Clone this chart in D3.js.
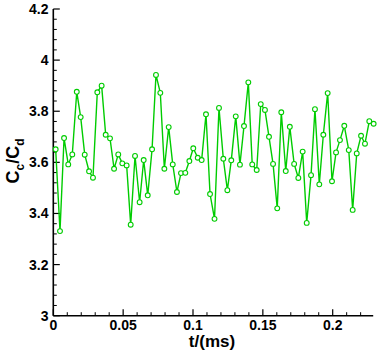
<!DOCTYPE html>
<html><head><meta charset="utf-8">
<script src="https://cdn.jsdelivr.net/npm/d3@7"></script>
<style>html,body{margin:0;padding:0;background:#fff;}svg{display:block;}</style>
</head><body>
<script>
const times = [0.0017,0.0048,0.0077,0.0107,0.0136,0.0168,0.0196,0.0225,0.0256,0.0284,
0.0315,0.0346,0.0375,0.0406,0.0435,0.0465,0.0494,0.0525,0.0554,0.0585,
0.0618,0.0647,0.0676,0.0707,0.0735,0.0766,0.0795,0.0826,0.0855,0.0885,
0.0914,0.0945,0.0974,0.1002,0.1034,0.1062,0.1093,0.1122,0.1154,0.1186,
0.1217,0.1246,0.1274,0.1306,0.1336,0.1365,0.1396,0.1424,0.1456,0.1485,
0.1515,0.1544,0.1573,0.1603,0.1632,0.1664,0.1693,0.1724,0.1754,0.1785,
0.1814,0.1845,0.1873,0.1904,0.1933,0.1964,0.1995,0.2024,0.2052,0.2083,
0.2115,0.2143,0.2172,0.2203,0.2231,0.2262,0.2293];
const ratio = [3.651,3.331,3.695,3.592,3.631,3.876,3.777,3.630,3.565,3.540,
3.874,3.900,3.708,3.694,3.575,3.631,3.596,3.588,3.356,3.625,
3.444,3.609,3.471,3.651,3.942,3.872,3.575,3.738,3.592,3.484,
3.558,3.559,3.605,3.655,3.618,3.609,3.788,3.476,3.379,3.813,
3.614,3.491,3.608,3.780,3.591,3.742,3.913,3.592,3.570,3.828,
3.805,3.700,3.594,3.420,3.796,3.566,3.739,3.594,3.539,3.642,
3.363,3.550,3.808,3.514,3.708,3.871,3.526,3.639,3.687,3.743,
3.648,3.414,3.635,3.704,3.673,3.761,3.751];
const xTicks = [0,0.05,0.1,0.15,0.2];
const xTickLabels = ["0","0.05","0.1","0.15","0.2"];
const yTicks = [3,3.2,3.4,3.6,3.8,4,4.2];
const yTickLabels = ["3","3.2","3.4","3.6","3.8","4","4.2"];
const xMinor = [0.01,0.02,0.03,0.04,0.06,0.07,0.08,0.09,0.11,0.12,0.13,0.14,0.16,0.17,0.18,0.19,0.21,0.22];
const yMinor = [3.04,3.08,3.12,3.16,3.24,3.28,3.32,3.36,3.44,3.48,3.52,3.56,3.64,3.68,3.72,3.76,3.84,3.88,3.92,3.96,4.04,4.08,4.12,4.16];

const W = 382, H = 353;
const svg = d3.select("body").append("svg").attr("width", W).attr("height", H);
const x = d3.scaleLinear().domain([0, 0.229]).range([53.3, 53.3 + 0.229 * 1397]);
const y = d3.scaleLinear().domain([3, 4.2]).range([315.7, 9]);
const font = "'Liberation Sans', Arial, sans-serif";

// minor ticks
const gx = svg.append("g");
gx.selectAll("line.minor").data(xMinor).enter().append("line")
  .attr("x1", d => x(d)).attr("x2", d => x(d))
  .attr("y1", y(3)).attr("y2", y(3) - 3.5)
  .attr("stroke", "#000").attr("stroke-width", 1);
gx.selectAll("line.major").data(xTicks).enter().append("line")
  .attr("x1", d => x(d)).attr("x2", d => x(d))
  .attr("y1", y(3)).attr("y2", y(3) - 6.5)
  .attr("stroke", "#000").attr("stroke-width", 1.2);
gx.selectAll("text").data(xTicks).enter().append("text")
  .attr("x", d => x(d)).attr("y", 330)
  .attr("text-anchor", "middle")
  .attr("font-family", font).attr("font-weight", "bold").attr("font-size", 14)
  .text((d, i) => xTickLabels[i]);

const gy = svg.append("g");
gy.selectAll("line.minor").data(yMinor).enter().append("line")
  .attr("x1", x(0)).attr("x2", x(0) + 3.5)
  .attr("y1", d => y(d)).attr("y2", d => y(d))
  .attr("stroke", "#000").attr("stroke-width", 1);
gy.selectAll("line.major").data(yTicks).enter().append("line")
  .attr("x1", x(0)).attr("x2", x(0) + 6.5)
  .attr("y1", d => y(d)).attr("y2", d => y(d))
  .attr("stroke", "#000").attr("stroke-width", 1.2);
gy.selectAll("text").data(yTicks).enter().append("text")
  .attr("x", 48.5).attr("y", d => y(d) + 5)
  .attr("text-anchor", "end")
  .attr("font-family", font).attr("font-weight", "bold").attr("font-size", 14)
  .text((d, i) => yTickLabels[i]);

// axis lines
svg.append("line").attr("x1", x(0)).attr("x2", x(0.229)).attr("y1", y(3)).attr("y2", y(3))
  .attr("stroke", "#000").attr("stroke-width", 1.6);
svg.append("line").attr("x1", x(0)).attr("x2", x(0)).attr("y1", y(3)).attr("y2", y(4.2))
  .attr("stroke", "#000").attr("stroke-width", 1.6);

// data
const pts = times.map((t, i) => [t, ratio[i]]);
const line = d3.line().x(d => x(d[0])).y(d => y(d[1]));
svg.append("path").datum(pts).attr("d", line)
  .attr("fill", "none").attr("stroke", "#00cc00").attr("stroke-width", 1.4);
svg.selectAll("circle").data(pts).enter().append("circle")
  .attr("cx", d => x(d[0])).attr("cy", d => y(d[1])).attr("r", 2.4)
  .attr("fill", "#fff").attr("stroke", "#00cc00").attr("stroke-width", 1.1);

// titles
svg.append("text").attr("x", 212).attr("y", 347)
  .attr("text-anchor", "middle")
  .attr("font-family", font).attr("font-weight", "bold").attr("font-size", 17)
  .text("t/(ms)");
const yt = svg.append("text")
  .attr("transform", "translate(19,161) rotate(-90)")
  .attr("text-anchor", "middle")
  .attr("font-family", font).attr("font-weight", "bold").attr("font-size", 18);
yt.append("tspan").text("C");
yt.append("tspan").attr("font-size", 12).attr("dy", 5).text("c");
yt.append("tspan").attr("dy", -5).text("/C");
yt.append("tspan").attr("font-size", 12).attr("dy", 5).text("d");
</script>
</body></html>
